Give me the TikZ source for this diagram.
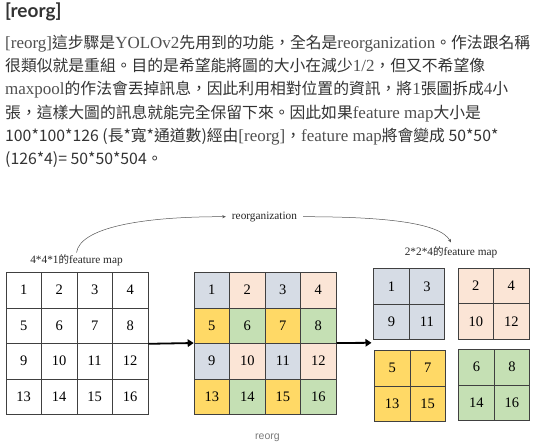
\documentclass[tikz,border=0pt]{standalone}
\usepackage{fontspec}
\setmainfont{Liberation Serif}
\newfontfamily\cjkf{Noto Sans CJK TC}
\newfontfamily\headf{Lato}
\newfontfamily\captf{Liberation Sans}
\usetikzlibrary{arrows.meta}
\definecolor{bluec}{HTML}{D6DCE5}
\definecolor{peachc}{HTML}{FBE5D6}
\definecolor{yellowc}{HTML}{FFD966}
\definecolor{greenc}{HTML}{C5E0B4}
\definecolor{cellline}{HTML}{404040}
\definecolor{cjkcol}{HTML}{333333}
\definecolor{latcol}{HTML}{505050}
\definecolor{curvecol}{HTML}{555555}
\definecolor{captcol}{HTML}{7A7A7A}
\newcommand\C[1]{{\cjkf\fontsize{15.8}{20}\selectfont\color{cjkcol}#1}}
\newcommand\cj[1]{{\cjkf\fontsize{10.5}{12}\selectfont #1}}
\tikzset{
  para/.style={anchor=base west, inner sep=0pt, text=latcol, font=\fontsize{17}{20}\selectfont},
  head/.style={anchor=base west, inner sep=0pt, text=cjkcol, font=\headf\bfseries\fontsize{19}{22}\selectfont},
  cellbox/.style={draw=cellline, line width=0.8pt, minimum width=35.5pt, minimum height=35.5pt, inner sep=0pt, anchor=north west, text=black, font=\fontsize{14.5}{14.5}\selectfont},
  lab/.style={inner sep=0pt, text=black!85, font=\fontsize{11.3}{13}\selectfont},
  bigarrow/.style={line width=1.8pt, black, -{Triangle[length=6pt,width=7.5pt]}},
  curvearrow/.style={draw=curvecol, line width=0.5pt, -{Stealth[length=3.5pt,width=3pt]}},
  captn/.style={inner sep=0pt, text=captcol, font=\captf\fontsize{10.5}{12}\selectfont}
}
\begin{document}
\begin{tikzpicture}[x=1pt,y=-1pt]
\useasboundingbox (0,0) rectangle (535,445);
\fill[white] (0,0) rectangle (535,445);
% heading and paragraph
\node[head] (h) at (5,17) {[reorg]};
\node[para] (p1) at (5,48) {[reorg]\C{這步驟是}YOLOv2\C{先用到的功能，全名是}reorganization\C{。作法跟名稱}};
\node[para] (p2) at (5,71) {\C{很類似就是重組。目的是希望能將圖的大小在減少}1/2\C{，但又不希望像}};
\node[para] (p3) at (5,94) {maxpool\C{的作法會丟掉訊息，因此利用相對位置的資訊，將}1\C{張圖拆成}4\C{小}};
\node[para] (p4) at (5,118) {\C{張，這樣大圖的訊息就能完全保留下來。因此如果}feature map\C{大小是}};
\node[para] (p5) at (5,141) {\C{100*100*126 (長*寬*通道數)經由}[reorg]\C{，}feature map\C{將會變成 50*50*}};
\node[para] (p6) at (5,164) {\C{(126*4)= 50*50*504。}};
% left grid
\foreach \r in {0,...,3}{
  \foreach \c in {0,...,3}{
    \pgfmathtruncatemacro\n{4*\r+\c+1}
    \node[cellbox] (L\n) at ({5.5+35.5*\c},{272+35.5*\r}) {\n};
  }
}
% middle grid
\foreach \n/\c/\r/\col in {1/0/0/bluec,2/1/0/peachc,3/2/0/bluec,4/3/0/peachc,
  5/0/1/yellowc,6/1/1/greenc,7/2/1/yellowc,8/3/1/greenc,
  9/0/2/bluec,10/1/2/peachc,11/2/2/bluec,12/3/2/peachc,
  13/0/3/yellowc,14/1/3/greenc,15/2/3/yellowc,16/3/3/greenc}{
  \node[cellbox, fill=\col] (M\n) at ({193.7+35.5*\c},{272+35.5*\r}) {\n};
}
% right grids
\foreach \n/\x/\y/\col in {1/373.3/268.3/bluec,3/408.8/268.3/bluec,9/373.3/303.8/bluec,11/408.8/303.8/bluec,
  2/457.7/267.7/peachc,4/493.2/267.7/peachc,10/457.7/303.2/peachc,12/493.2/303.2/peachc,
  5/374/350/yellowc,7/409.5/350/yellowc,13/374/385.5/yellowc,15/409.5/385.5/yellowc,
  6/458.3/349/greenc,8/493.8/349/greenc,14/458.3/384.5/greenc,16/493.8/384.5/greenc}{
  \node[cellbox, fill=\col] (R\n) at (\x,\y) {\n};
}
% arrows
\coordinate (a2end) at (371.5,342.8);
\draw[bigarrow] (L8.south east) -- (M9.north west);
\draw[bigarrow] (M12.north east) -- (a2end);
% labels
\node[lab] (lab1) at (76.5,260) {4*4*1\cj{的}feature map};
\node[lab] (lab2) at (451,252.3) {2*2*4\cj{的}feature map};
\node[lab, inner xsep=6pt] (rtxt) at (264.5,216.7) {reorganization};
\draw[curvearrow] ([yshift=1.5pt]lab1.north) .. controls (80,228) and (140,216.5) .. (rtxt.west);
\draw[curvearrow] (rtxt.east) .. controls (380,216.7) and (440,222) .. ([yshift=4pt]lab2.north);
% caption
\node[captn] (cap) at (267.5,438) {reorg};
\end{tikzpicture}
\end{document}
